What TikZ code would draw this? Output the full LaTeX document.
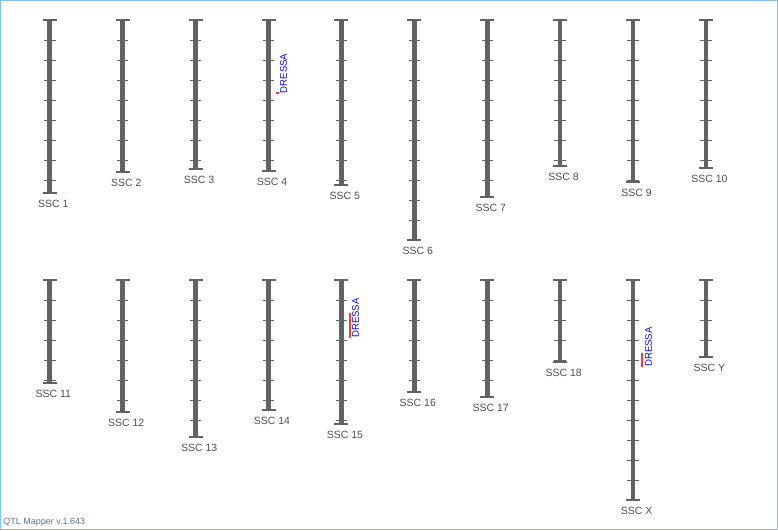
\documentclass[tikz,border=0pt]{standalone}
\usepackage{fontspec}
\setmainfont{Liberation Sans}
\usepackage{tikz}
\usetikzlibrary{positioning}
\definecolor{chromgray}{HTML}{626262}
\definecolor{labelgray}{HTML}{4F4F4F}
\definecolor{framblue}{HTML}{86C0EC}
\definecolor{qtlred}{HTML}{F03C3C}
\definecolor{qtlblue}{HTML}{0A0AF5}
\definecolor{versiongray}{HTML}{5A7590}

\begin{document}
\begin{tikzpicture}[x=1pt,y=-1pt,semithick]
	\tikzstyle{every node}=[inner sep=0pt,text=labelgray,font=\fontsize{10.5}{12}\selectfont]
	\tikzstyle{chrombar}=[draw=chromgray,line width=4.7pt]
	\tikzstyle{tickmark}=[draw=chromgray,line width=0.9pt]
	\tikzstyle{endcap}=[draw=chromgray,line width=1.4pt]
	\tikzstyle{qtl}=[draw=qtlred,line width=2.2pt]
	\tikzstyle{qtl label}=[rotate=90,anchor=west,text=qtlblue,font=\fontsize{9.6}{11}\selectfont]

	% frame of the mapper window
	\draw[framblue,line width=1.2pt] (0.6,0.6) rectangle (777.4,529.4);
	\useasboundingbox (0,0) rectangle (778,530);

	% chromosomes: name/column/top/bottom/label
	\foreach \name/\k/\top/\bot/\lab in {
		c1/0/20/193/SSC 1, c2/1/20/172/SSC 2, c3/2/20/169/SSC 3,
		c4/3/20/171/SSC 4, c5/4/20/185/SSC 5, c6/5/20/240/SSC 6,
		c7/6/20/197/SSC 7, c8/7/20/166/SSC 8, c9/8/20/182/SSC 9,
		c10/9/20/168/SSC 10,
		c11/0/280/383/SSC 11, c12/1/280/412/SSC 12, c13/2/280/437/SSC 13,
		c14/3/280/410/SSC 14, c15/4/280/424/SSC 15, c16/5/280/392/SSC 16,
		c17/6/280/397/SSC 17, c18/7/280/362/SSC 18, cX/8/280/500/SSC X,
		cY/9/280/357/SSC Y}
	{
		\pgfmathsetmacro\x{49.8+72.9*\k}
		\pgfmathtruncatemacro\n{(\bot-\top-1)/20}
		\coordinate (\name top) at (\x,\top);
		\coordinate (\name bot) at (\x,\bot);
		\draw[chrombar] (\name top) -- (\name bot);
		\draw[endcap] ([xshift=-7pt]\name top) -- ([xshift=7pt]\name top);
		\draw[endcap] ([xshift=-7pt]\name bot) -- ([xshift=7pt]\name bot);
		\foreach \i in {1,...,\n}
			\draw[tickmark] (\x-5.7,\top+20*\i) -- (\x+5.7,\top+20*\i);
		\node[anchor=north] (\name lab) at (\x+3.5,\bot+6.5) {\lab};
	}

	% QTL markers
	\draw[qtl] (277.5,91.5) -- (277.5,94);
	\node[qtl label] (q4) at (283.5,93.5) {DRESSA};
	\draw[qtl] (350,313) -- (350,338);
	\node[qtl label] (q15) at (355.5,338) {DRESSA};
	\draw[qtl] (642,353) -- (642,367);
	\node[qtl label] (qX) at (648.5,367) {DRESSA};

	\node[anchor=south west,text=versiongray,font=\fontsize{9}{10}\selectfont] (ver) at (3,527) {QTL Mapper v.1.643};
\end{tikzpicture}
\end{document}
